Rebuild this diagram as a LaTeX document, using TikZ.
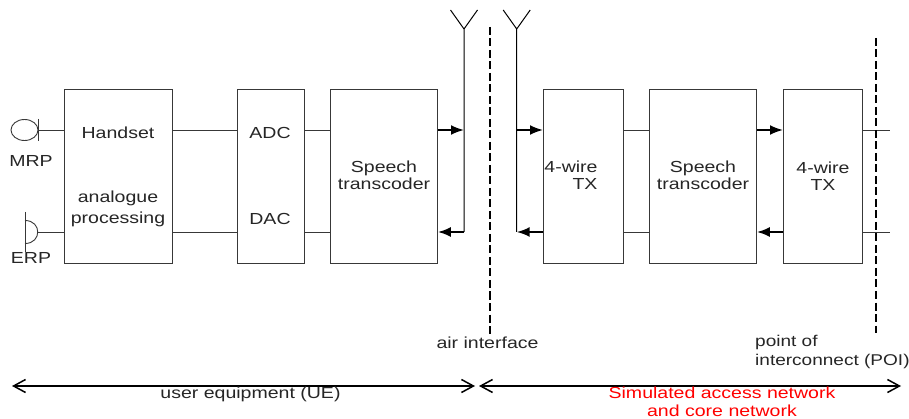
\documentclass[tikz,border=0pt]{standalone}
\usepackage{fontspec}
\setmainfont{Liberation Sans}[FakeStretch=1.22]
\usetikzlibrary{arrows.meta,shapes.geometric}
\definecolor{ln}{gray}{0.22}
\tikzset{
  blockbox/.style={draw=ln,line width=0.9pt,minimum height=174pt,inner sep=0pt,anchor=north west},
  wire/.style={draw=ln,line width=0.9pt},
  bwire/.style={draw=black,line width=1pt},
  sig/.style={draw=black,line width=2pt,-{Latex[length=13pt,width=10pt]}},
  span/.style={draw=black,line width=1.5pt,{Straight Barb[length=12pt,width=13pt,line width=1.5pt]}-{Straight Barb[length=12pt,width=13pt,line width=1.5pt]}},
  bound/.style={draw=black,line width=2.1pt,dash pattern=on 8pt off 3.5pt},
  lbl/.style={font=\fontsize{16}{17.5}\selectfont,text=black!85,inner sep=0pt,align=center}
}
\begin{document}
\begin{tikzpicture}[x=1pt,y=-1pt]
\useasboundingbox (0,0) rectangle (909,419);
\fill[white] (0,0) rectangle (909,419);
% blocks
\node[blockbox,minimum width=108pt] (hs) at (64,89) {};
\node[blockbox,minimum width=67pt] (adc) at (237,89) {};
\node[blockbox,minimum width=107pt] (st1) at (330,89) {};
\node[blockbox,minimum width=80pt] (tx1) at (543,89) {};
\node[blockbox,minimum width=107pt] (st2) at (649,89) {};
\node[blockbox,minimum width=79pt] (tx2) at (783,89) {};
% levels
\path (hs.north west) ++(0,41) coordinate (hsA) (hs.north east) ++(0,41) coordinate (hsB)
      (hs.north west) ++(0,143) coordinate (hsC) (hs.north east) ++(0,143) coordinate (hsD)
      (adc.north west) ++(0,41) coordinate (adA) (adc.north east) ++(0,41) coordinate (adB)
      (adc.north west) ++(0,143) coordinate (adC) (adc.north east) ++(0,143) coordinate (adD)
      (st1.north west) ++(0,41) coordinate (s1A) (st1.north east) ++(0,41) coordinate (s1B)
      (st1.north west) ++(0,143) coordinate (s1C) (st1.north east) ++(0,143) coordinate (s1D)
      (tx1.north west) ++(0,41) coordinate (t1A) (tx1.north east) ++(0,41) coordinate (t1B)
      (tx1.north west) ++(0,143) coordinate (t1C) (tx1.north east) ++(0,143) coordinate (t1D)
      (st2.north west) ++(0,41) coordinate (s2A) (st2.north east) ++(0,41) coordinate (s2B)
      (st2.north west) ++(0,143) coordinate (s2C) (st2.north east) ++(0,143) coordinate (s2D)
      (tx2.north west) ++(0,41) coordinate (t2A) (tx2.north east) ++(0,41) coordinate (t2B)
      (tx2.north west) ++(0,143) coordinate (t2C) (tx2.north east) ++(0,143) coordinate (t2D);
\coordinate (antLa) at (464,29); \coordinate (antLb) at (464,130); \coordinate (antLc) at (464,232);
\coordinate (antRa) at (516.7,29); \coordinate (antRb) at (516.7,130); \coordinate (antRc) at (516.7,232);
\coordinate (endA) at (890,130); \coordinate (endB) at (890,232);
\coordinate (micA) at (38,130); \coordinate (spkA) at (38,232);
% microphone / earpiece
\node[draw=ln,line width=0.9pt,ellipse,minimum width=27pt,minimum height=21pt,inner sep=0pt] (mic) at (24.5,130) {};
\draw[wire] (38,119) -- (38,141);
\draw[wire] (25,212) -- (25,252);
\draw[wire] (25,220.5) .. controls (42,220.5) and (42,243.5) .. (25,243.5);
\draw[wire] (micA) -- (hsA);
\draw[wire] (spkA) -- (hsC);
% wires
\draw[wire] (hsB) -- (adA); \draw[wire] (hsD) -- (adC);
\draw[wire] (adB) -- (s1A); \draw[wire] (adD) -- (s1C);
\draw[wire] (t1B) -- (s2A); \draw[wire] (t1D) -- (s2C);
\draw[wire] (t2B) -- (endA); \draw[wire] (t2D) -- (endB);
% antennas
\draw[bwire] (antLc) -- (antLa) -- ++(-13.5,-19) (antLa) -- ++(13.5,-19);
\draw[bwire] (antRc) -- (antRa) -- ++(-13.5,-19) (antRa) -- ++(13.5,-19);
% signal arrows
\draw[sig] (s1B) -- (antLb);
\draw[sig] (antLc) -- (s1D);
\draw[sig] (antRb) -- (t1A);
\draw[sig] (t1C) -- (antRc);
\draw[sig] (s2B) -- (t2A);
\draw[sig] (t2C) -- (s2D);
% boundaries
\coordinate (airT) at (490,27); \coordinate (airB) at (490,335);
\coordinate (poiT) at (876,38); \coordinate (poiB) at (876,333);
\draw[bound] (airT) -- (airB);
\draw[bound] (poiT) -- (poiB);
% spans
\coordinate (spA) at (12,386); \coordinate (spB) at (475,386);
\coordinate (spC) at (479,386); \coordinate (spD) at (901,386);
\draw[span] (spA) -- (spB);
\draw[span] (spC) -- (spD);
% labels
\node[lbl] (lmrp) at (31,161) {MRP};
\node[lbl] (lerp) at (31,258) {ERP};
\node[lbl] (lhs) at (118,133) {Handset};
\node[lbl] (lap) at (118,209) {analogue\\[4pt]processing};
\node[lbl] (ladc) at (270,133) {ADC};
\node[lbl] (ldac) at (270,219) {DAC};
\node[lbl] (ls1) at (384,175.5) {Speech\\transcoder};
\node[lbl] (lt1a) at (571,167) {4-wire};
\node[lbl] (lt1b) at (585,184) {TX};
\node[lbl] (ls2) at (703,175.5) {Speech\\transcoder};
\node[lbl] (lt2) at (823,176) {4-wire\\TX};
\node[lbl] (lair) at (487.5,343) {air interface};
\node[lbl,font=\fontsize{15.6}{17.5}\selectfont,align=left,anchor=west] (lpoi) at (755,352) {point of\\[1pt]interconnect (POI)};
\node[lbl] (lue) at (250.5,394) {user equipment (UE)};
\node[lbl,text=red] (lsim) at (722,402) {Simulated access network\\and core network};
\end{tikzpicture}
\end{document}
